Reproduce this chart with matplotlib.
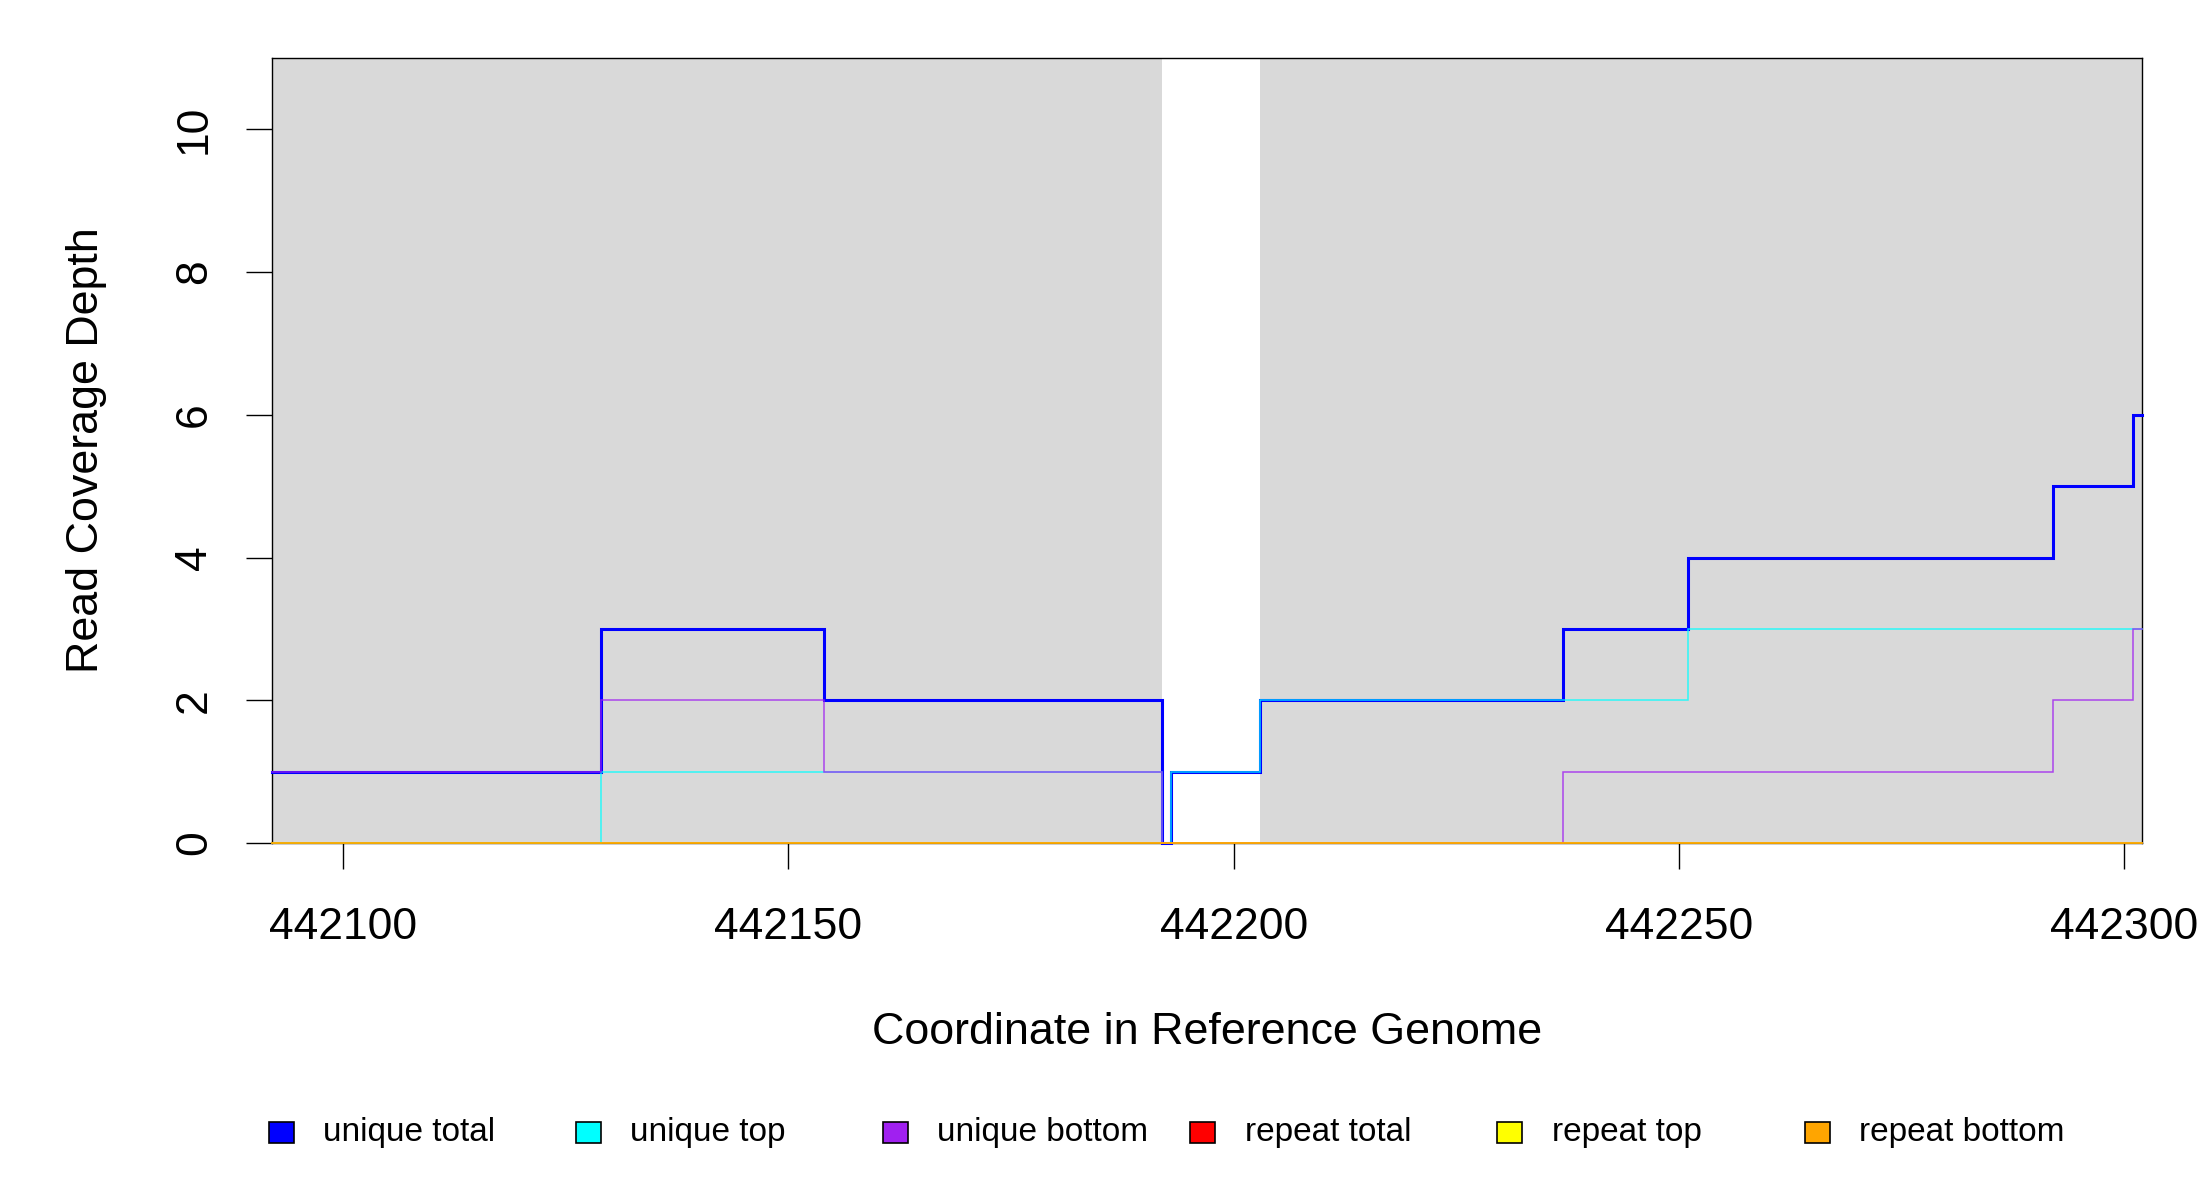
import matplotlib
matplotlib.use("Agg")
import matplotlib.pyplot as plt
from matplotlib.patches import Rectangle

plt.rcParams['font.family'] = ['Liberation Sans', 'DejaVu Sans']

# step edges along the reference coordinate and coverage per segment
edges = [442092, 442129, 442154, 442192, 442193, 442203, 442237, 442251, 442292, 442301, 442302]
unique_total = [1, 3, 2, 0, 1, 2, 3, 4, 5, 6]
unique_top = [0, 1, 1, 0, 1, 2, 2, 3, 3, 3]
unique_bottom = [1, 2, 1, 0, 0, 0, 1, 1, 2, 3]
repeat_total = [0, 0, 0, 0, 0, 0, 0, 0, 0, 0]
repeat_top = [0, 0, 0, 0, 0, 0, 0, 0, 0, 0]
repeat_bottom = [0, 0, 0, 0, 0, 0, 0, 0, 0, 0]

# grey shaded regions
shade_starts = [442092, 442203]
shade_ends = [442192, 442302]

series_names = ['unique total', 'unique top', 'unique bottom',
                'repeat total', 'repeat top', 'repeat bottom']
series_values = [unique_total, unique_top, unique_bottom,
                 repeat_total, repeat_top, repeat_bottom]
series_colors = ['#0000FF', '#00FFFF', '#A020F0', '#FF0000', '#FFFF00', '#FFA500']
series_widths = [2.2, 1.1, 1.1, 1.1, 1.1, 1.1]

x_ticks = [442100, 442150, 442200, 442250, 442300]
y_ticks = [0, 2, 4, 6, 8, 10]

fig = plt.figure(figsize=(22, 12), dpi=100)
ax = fig.add_axes([272 / 2200, 1 - 843 / 1200, (2142 - 272) / 2200, (843 - 58) / 1200])

for s, e in zip(shade_starts, shade_ends):
    ax.axvspan(s, e, color='#D9D9D9', lw=0, zorder=0)

for name, vals, col, lw in zip(series_names, series_values, series_colors, series_widths):
    ax.step(edges, vals + [vals[-1]], where='post', color=col, lw=lw,
            alpha=0.8 if lw < 2 else 1.0, zorder=3, clip_on=False,
            solid_joinstyle='miter')

ax.set_xlim(442092, 442302)
ax.set_ylim(0, 11)
ax.set_xticks(x_ticks)
ax.set_yticks(y_ticks)
ax.tick_params(axis='both', direction='out', length=19, width=1, labelsize=32, colors='black')
ax.tick_params(axis='x', pad=27)
ax.tick_params(axis='y', pad=22)
for lab in ax.get_yticklabels():
    lab.set_rotation(90)
    lab.set_va('center')
for sp in ax.spines.values():
    sp.set_linewidth(1)
    sp.set_color('black')
    sp.set_zorder(2)

fig.text(1207 / 2200, 1 - 1032 / 1200, 'Coordinate in Reference Genome',
         ha='center', va='center', fontsize=32.3)
fig.text(87 / 2200, 1 - 450 / 1200, 'Read Coverage Depth',
         ha='center', va='center', rotation=90, fontsize=32.3)

# legend laid out in equal slots like the original
x0 = 281
step = 307.2
ly = 1133
sq = 25
for i, (name, col) in enumerate(zip(series_names, series_colors)):
    cx = x0 + i * step
    fig.patches.append(Rectangle(((cx - sq / 2) / 2200, 1 - (ly + 10) / 1200),
                                 sq / 2200, 21 / 1200, transform=fig.transFigure,
                                 facecolor=col, edgecolor='black', lw=1.2))
    fig.text((cx + 42) / 2200, 1 - ly / 1200, name, ha='left', va='center', fontsize=24)

fig.savefig('out.png', dpi=100)
